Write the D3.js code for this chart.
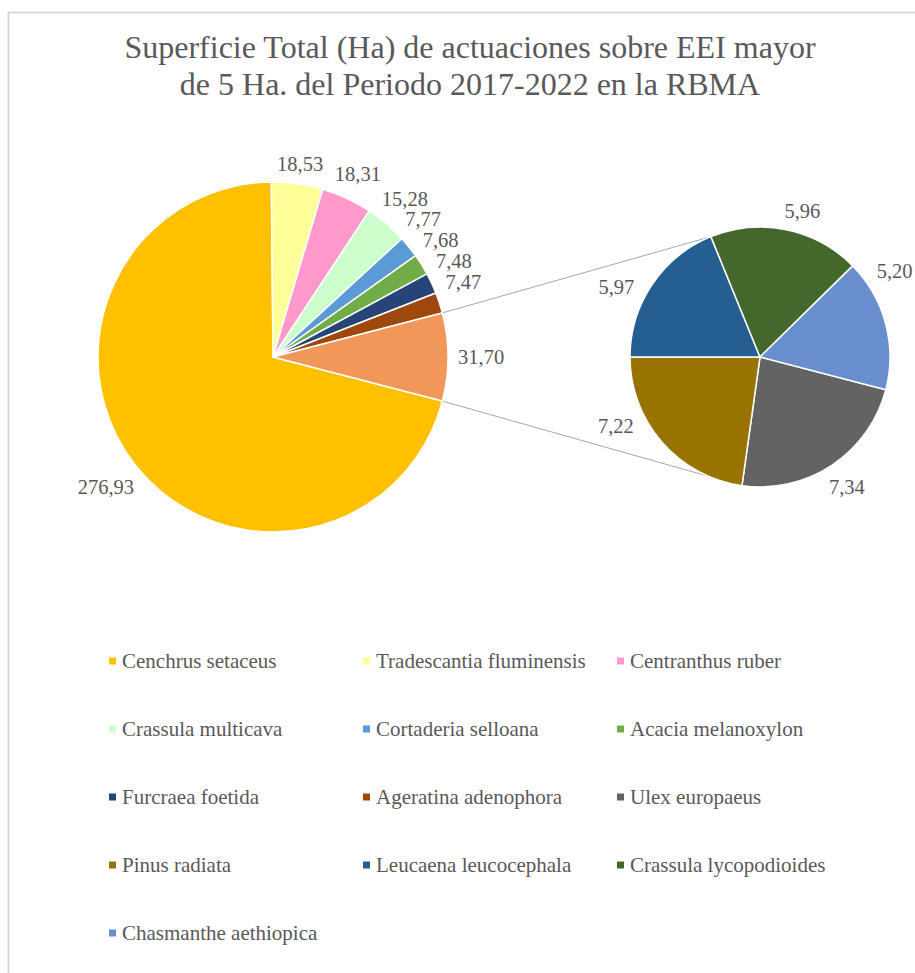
<!DOCTYPE html>
<html>
<head>
<meta charset="utf-8">
<script src="https://cdn.jsdelivr.net/npm/d3@7"></script>
<style>
  html, body { margin: 0; padding: 0; background: #ffffff; }
  svg { display: block; }
  text { font-family: "Liberation Serif", "Times New Roman", serif; fill: #595959; }
</style>
</head>
<body>
<div id="chart"></div>
<script>
// Superficie (Ha) por especie: especies del gráfico principal
const mainNames = [
  "Cenchrus setaceus", "Tradescantia fluminensis", "Centranthus ruber",
  "Crassula multicava", "Cortaderia selloana", "Acacia melanoxylon",
  "Furcraea foetida", "Ageratina adenophora"
];
const mainValues = [276.93, 18.53, 18.31, 15.28, 7.77, 7.68, 7.48, 7.47];
const mainColors = [
  "#FFC000", "#FFFF99", "#FF99CC", "#CCFFCC", "#5B9BD5", "#70AD47",
  "#264478", "#9E480E"
];

// Especies agrupadas en el gráfico secundario
const subNames = [
  "Ulex europaeus", "Pinus radiata", "Leucaena leucocephala",
  "Crassula lycopodioides", "Chasmanthe aethiopica"
];
const subValues = [7.34, 7.22, 5.97, 5.96, 5.20];
const subColors = ["#636363", "#997300", "#255E91", "#43682B", "#698ED0"];

// Porción agregada del gráfico principal
const otherTotal = 31.70;
const otherColor = "#F1975A";

const titleLines = [
  "Superficie Total (Ha) de actuaciones sobre EEI mayor",
  "de 5 Ha. del Periodo 2017-2022 en la RBMA"
];

// ---------------------------------------------------------------
const W = 915, H = 973;
const labelFont = 20.5;
const legendFont = 21;
const fmt = v => v.toFixed(2).replace(".", ",");

const svg = d3.select("#chart").append("svg")
  .attr("width", W).attr("height", H);

svg.append("rect").attr("width", W).attr("height", H).attr("fill", "#fff");

// marco del área del gráfico
svg.append("path")
  .attr("d", `M8.5,${H} V12.5 H${W}`)
  .attr("fill", "none").attr("stroke", "#d9d9d9").attr("stroke-width", 2);

// título
svg.append("g").selectAll("text").data(titleLines).join("text")
  .attr("x", 470)
  .attr("y", (d, i) => 58 + i * 37)
  .attr("text-anchor", "middle")
  .style("font-size", "32px")
  .text(d => d);

// geometría de las dos tartas
const main = { cx: 273, cy: 357, r: 175 };
const sub = { cx: 760, cy: 357, r: 130 };

const mainTotal = d3.sum(mainValues) + otherTotal;
const otherSweep = otherTotal / mainTotal * 2 * Math.PI;
const start = Math.PI / 2 + otherSweep / 2;

const mainData = mainValues.map((v, i) => ({ name: mainNames[i], value: v, color: mainColors[i] }))
  .concat([{ name: "", value: otherTotal, color: otherColor }]);
const subData = subValues.map((v, i) => ({ name: subNames[i], value: v, color: subColors[i] }));

const pie = d3.pie().sort(null).value(d => d.value)
  .startAngle(start).endAngle(start + 2 * Math.PI);

const mainArcs = pie(mainData);
const subArcs = pie(subData);

const polar = (c, rad, a) => ({ x: c.cx + rad * Math.sin(a), y: c.cy - rad * Math.cos(a) });

// líneas de unión: bordes de la porción agregada -> tangentes ajustadas al borde de porción más cercano
const otherArc = mainArcs[mainArcs.length - 1];
const angDiff = (a, b) => {
  const t = 2 * Math.PI;
  return ((((a - b) % t) + t * 1.5) % t) - Math.PI;
};
const boundaries = subArcs.map(d => d.startAngle);
function connectorTarget(p, upper) {
  const dx = p.x - sub.cx, dy = p.y - sub.cy;
  const d = Math.hypot(dx, dy);
  const phi = Math.atan2(dx, -dy);
  const off = Math.acos(sub.r / d);
  const tangent = upper ? phi + off : phi - off;
  let best = boundaries[0];
  boundaries.forEach(b => { if (Math.abs(angDiff(b, tangent)) < Math.abs(angDiff(best, tangent))) best = b; });
  return polar(sub, sub.r, best);
}
const pUpper = polar(main, main.r, otherArc.startAngle);
const pLower = polar(main, main.r, otherArc.endAngle);
const segments = [
  [pUpper, connectorTarget(pUpper, true)],
  [pLower, connectorTarget(pLower, false)]
];

svg.append("g").selectAll("line").data(segments).join("line")
  .attr("x1", d => d[0].x).attr("y1", d => d[0].y)
  .attr("x2", d => d[1].x).attr("y2", d => d[1].y)
  .attr("stroke", "#a6a6a6").attr("stroke-width", 1);

// porciones
function drawPie(arcs, c) {
  const arc = d3.arc().innerRadius(0).outerRadius(c.r);
  svg.append("g").attr("transform", `translate(${c.cx},${c.cy})`)
    .selectAll("path").data(arcs).join("path")
    .attr("d", arc)
    .attr("fill", d => d.data.color)
    .attr("stroke", "#fff").attr("stroke-width", 1.5)
    .attr("stroke-linejoin", "round");
}
drawPie(mainArcs, main);
drawPie(subArcs, sub);

// etiquetas de datos: fuera de cada porción, evitando líneas de unión, bordes y solapes
const measurer = svg.append("text").style("font-size", labelFont + "px");
const textWidth = s => { measurer.text(s); return measurer.node().getComputedTextLength(); };

const labelGap = 10, lineClear = 8, pad = 0.5, step = Math.PI / 360;
const hhFit = labelFont * 0.4;   // media altura usada para separar la etiqueta de la tarta
const hhBox = labelFont * 0.48;  // media altura usada para evitar solapes entre etiquetas
const placedBoxes = [];

function segBoxDist(sg, b) {
  let m = Infinity;
  for (let k = 0; k <= 200; k++) {
    const t = k / 200;
    const px = sg[0].x + (sg[1].x - sg[0].x) * t;
    const py = sg[0].y + (sg[1].y - sg[0].y) * t;
    const dx = Math.max(b.x0 - px, 0, px - b.x1);
    const dy = Math.max(b.y0 - py, 0, py - b.y1);
    m = Math.min(m, Math.hypot(dx, dy));
  }
  return m;
}
const side = (sg, p) => Math.sign((sg[1].x - sg[0].x) * (p.y - sg[0].y) - (sg[1].y - sg[0].y) * (p.x - sg[0].x));

// centro de la etiqueta a lo largo del ángulo, con su caja justo fuera del radio r + labelGap
function fitCenter(c, ang, hw) {
  const s = Math.sin(ang), co = -Math.cos(ang);
  const target = c.r + labelGap;
  const near = d => {
    const x = d * s, y = d * co;
    const nx = Math.max(Math.abs(x) - hw, 0), ny = Math.max(Math.abs(y) - hhFit, 0);
    return Math.hypot(nx, ny);
  };
  let lo = c.r * 0.5, hi = c.r + 200;
  for (let k = 0; k < 40; k++) {
    const m = (lo + hi) / 2;
    if (near(m) < target) lo = m; else hi = m;
  }
  return { x: c.cx + hi * s, y: c.cy + hi * co };
}

function layoutLabels(arcs, c, order) {
  const out = [];
  order.forEach(i => {
    const a = arcs[i];
    const mid = (a.startAngle + a.endAngle) / 2;
    const text = fmt(a.data.value);
    const hw = textWidth(text) / 2;
    const boxOf = p => ({ x0: p.x - hw, x1: p.x + hw, y0: p.y - hhBox, y1: p.y + hhBox });
    const anchor = polar(c, c.r + labelGap, mid);
    const sides0 = segments.map(sg => side(sg, anchor));
    const ok = p => {
      const b = boxOf(p);
      if (b.x0 < 12 || b.x1 > W - 2) return false;
      for (let k = 0; k < segments.length; k++) {
        if (side(segments[k], p) !== sides0[k]) return false;
        if (segBoxDist(segments[k], b) < lineClear) return false;
      }
      for (const q of placedBoxes) {
        if (b.x0 < q.x1 + pad && b.x1 > q.x0 - pad && b.y0 < q.y1 + pad && b.y1 > q.y0 - pad) return false;
      }
      return true;
    };
    let best = fitCenter(c, mid, hw);
    search:
    for (let k = 0; k <= 180; k++) {
      for (const sg of (k ? [1, -1] : [1])) {
        const p = fitCenter(c, mid + sg * k * step, hw);
        if (ok(p)) { best = p; break search; }
      }
    }
    placedBoxes.push(boxOf(best));
    out.push({ x: best.x, y: best.y, text });
  });
  return out;
}

const mainOrder = d3.range(mainArcs.length).reverse();
const subOrder = d3.range(subArcs.length);
const labels = layoutLabels(mainArcs, main, mainOrder).concat(layoutLabels(subArcs, sub, subOrder));
measurer.remove();

svg.append("g").selectAll("text").data(labels).join("text")
  .attr("x", d => d.x).attr("y", d => d.y)
  .attr("dy", "0.34em")
  .attr("text-anchor", "middle")
  .style("font-size", labelFont + "px")
  .text(d => d.text);

// leyenda: tres columnas
const legendItems = mainData.slice(0, mainNames.length).concat(subData);
const colX = d3.scaleLinear().domain([0, 1]).range([109, 363]);
const rowY = d3.scaleLinear().domain([0, 1]).range([661, 729]);

const lg = svg.append("g").selectAll("g").data(legendItems).join("g")
  .attr("transform", (d, i) => `translate(${colX(i % 3)},${rowY(Math.floor(i / 3))})`);
lg.append("rect")
  .attr("x", 0).attr("y", -3.5).attr("width", 7).attr("height", 7)
  .attr("fill", d => d.color);
lg.append("text")
  .attr("x", 13).attr("dy", "0.34em")
  .style("font-size", legendFont + "px")
  .text(d => d.name);
</script>
</body>
</html>
